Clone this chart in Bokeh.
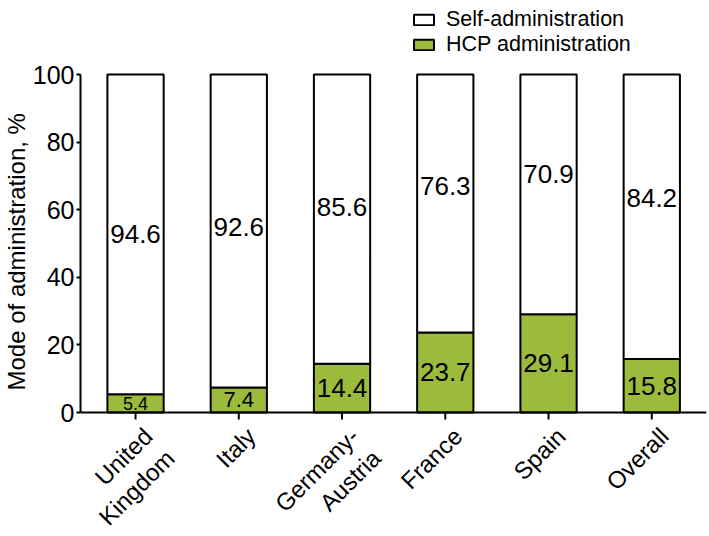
from bokeh.plotting import figure
from bokeh.models import (ColumnDataSource, Range1d, FixedTicker, Legend, LegendItem,
                          Span, Title)
from bokeh.core.properties import value
from bokeh.embed import file_html
from bokeh.resources import INLINE
import math

# ---- data ----
countries = ["United\nKingdom", "Italy", "Germany-\nAustria", "France", "Spain", "Overall"]
hcp_admin = [5.4, 7.4, 14.4, 23.7, 29.1, 15.8]
self_admin = [94.6, 92.6, 85.6, 76.3, 70.9, 84.2]
y_ticks = [0, 20, 40, 60, 80, 100]

# label placement (data units) as in the original
self_label_y = [52.8, 54.9, 60.8, 67.0, 70.6, 63.4]
hcp_label_size = ["18px", "22px", "26px", "26px", "26px", "26px"]

FONT = "Liberation Sans"
GREEN = "#9cba3b"

# ---- layout constants (pixels) ----
FW, FH = 626, 536          # frame size
PX_PER_UNIT = 3.38         # vertical scale
TOP_PAD_PX = 74            # space above the 100 line
Y_MAX = 100 + TOP_PAD_PX / PX_PER_UNIT
Y_MIN = Y_MAX - FH / PX_PER_UNIT
TICK_LEN = 7 / PX_PER_UNIT

xs = list(range(len(countries)))
tops = [h + s for h, s in zip(hcp_admin, self_admin)]
src = ColumnDataSource(dict(
    x=xs, hcp=hcp_admin, selfv=self_admin, top=tops,
    hcp_lbl=[f"{v:.1f}" for v in hcp_admin],
    self_lbl=[f"{v:.1f}" for v in self_admin],
    hcp_y=[v / 2 for v in hcp_admin],
    self_y=self_label_y,
    hcp_size=hcp_label_size,
    name=countries,
    zero=[0.0] * len(xs),
    tick_end=[-TICK_LEN] * len(xs),
))

p = figure(frame_width=FW, frame_height=FH, output_backend="svg", toolbar_location=None,
           x_range=Range1d(-0.533, 5.53), y_range=Range1d(Y_MIN, Y_MAX),
           x_axis_location=None,
           min_border_left=80, min_border_right=3, min_border_top=0,
           min_border_bottom=0)
p.outline_line_color = None
p.xgrid.visible = False
p.ygrid.visible = False

bw = 0.545
r_hcp = p.vbar(x="x", bottom=0, top="hcp", width=bw, source=src,
               fill_color=GREEN, line_color="black", line_width=2)
r_self = p.vbar(x="x", bottom="hcp", top="top", width=bw, source=src,
                fill_color="white", line_color="black", line_width=2)

p.text(x="x", y="self_y", text="self_lbl", source=src, text_align="center",
       text_baseline="middle", text_font=value(FONT), text_font_size="26px",
       text_color="black")
p.text(x="x", y="hcp_y", text="hcp_lbl", source=src, text_align="center",
       text_baseline="middle", text_font=value(FONT), text_font_size="hcp_size",
       text_color="black")

# x axis (line at zero, ticks, rotated category labels)
p.add_layout(Span(location=0, dimension="width", line_color="black", line_width=2))
p.segment(x0="x", y0="zero", x1="x", y1="tick_end", source=src,
          line_color="black", line_width=2)
p.text(x="x", y="zero", text="name", source=src, angle=math.pi / 4,
       text_align="right", text_baseline="top", x_offset=3, y_offset=10,
       text_font=value(FONT), text_font_size="24px", text_line_height=1.15,
       text_color="black")

# y axis
ya = p.yaxis[0]
ya.ticker = FixedTicker(ticks=y_ticks)
ya.bounds = (0, 100)
ya.major_label_text_font = FONT
ya.major_label_text_font_size = "25px"
ya.major_label_text_color = "black"
ya.major_tick_out = 4
ya.major_tick_in = 0
ya.minor_tick_line_color = None
ya.axis_line_width = 2
ya.major_tick_line_width = 2
ya.major_label_standoff = 2

ytitle = Title(text="Mode of administration, %", align="left", offset=146,
               standoff=0, text_font=FONT, text_font_size="24px",
               text_font_style="normal", text_color="black")
p.add_layout(ytitle, "left")

legend = Legend(items=[LegendItem(label="Self-administration", renderers=[r_self]),
                       LegendItem(label="HCP administration", renderers=[r_hcp])],
                location=(331, FH - 9 - 48), orientation="vertical",
                glyph_width=25, glyph_height=13, label_height=24, spacing=0,
                padding=0, margin=0, label_standoff=10,
                label_text_font=FONT, label_text_font_size="21.5px",
                label_text_color="black", border_line_color=None,
                background_fill_alpha=0)
p.add_layout(legend, "center")

open("out.html", "w").write(file_html(p, INLINE))
